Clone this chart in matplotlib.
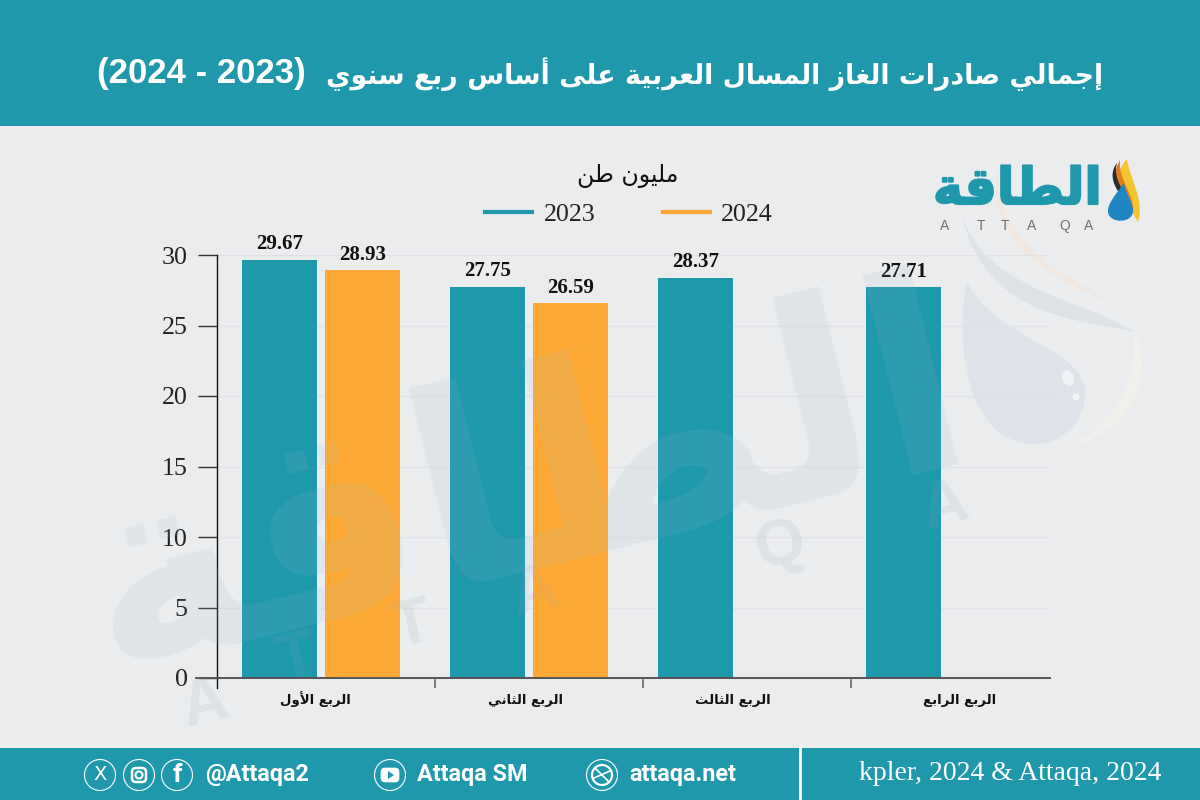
import numpy as np
import matplotlib
matplotlib.use("Agg")
import matplotlib.pyplot as plt
import matplotlib.patheffects as pe
from matplotlib.lines import Line2D
from matplotlib.patches import Circle, Rectangle, PathPatch, Ellipse, FancyBboxPatch, Polygon
from matplotlib.path import Path

# ---------- data ----------
categories = ["الربع الأول", "الربع الثاني", "الربع الثالث", "الربع الرابع"]
series_names = ["2023", "2024"]
values_2023 = [29.67, 27.75, 28.37, 27.71]
values_2024 = [28.93, 26.59, np.nan, np.nan]
y_ticks = [0, 5, 10, 15, 20, 25, 30]
title_ar = "إجمالي صادرات الغاز المسال العربية على أساس ربع سنوي"
title_years = "(2024 - 2023)"
unit = "مليون طن"
source = "kpler, 2024 & Attaqa, 2024"
brand = "الطاقة"

TEAL = "#1F98AC"
ORANGE = "#FDA834"
BG = "#EAECEE"

# ---------- Arabic shaping: matplotlib lays glyphs out left to right, one by one ----------
FORMS = {
    "ء": (0xFE80, None, None, None), "آ": (0xFE81, 0xFE82, None, None),
    "أ": (0xFE83, 0xFE84, None, None), "ؤ": (0xFE85, 0xFE86, None, None),
    "إ": (0xFE87, 0xFE88, None, None), "ا": (0xFE8D, 0xFE8E, None, None),
    "ة": (0xFE93, 0xFE94, None, None), "د": (0xFEA9, 0xFEAA, None, None),
    "ذ": (0xFEAB, 0xFEAC, None, None), "ر": (0xFEAD, 0xFEAE, None, None),
    "ز": (0xFEAF, 0xFEB0, None, None), "و": (0xFEED, 0xFEEE, None, None),
    "ى": (0xFEEF, 0xFEF0, None, None),
}
for ch, base in {"ب": 0xFE8F, "ت": 0xFE95, "ث": 0xFE99, "ج": 0xFE9D, "ح": 0xFEA1, "خ": 0xFEA5,
                 "س": 0xFEB1, "ش": 0xFEB5, "ص": 0xFEB9, "ض": 0xFEBD, "ط": 0xFEC1, "ظ": 0xFEC5,
                 "ع": 0xFEC9, "غ": 0xFECD, "ف": 0xFED1, "ق": 0xFED5, "ك": 0xFED9, "ل": 0xFEDD,
                 "م": 0xFEE1, "ن": 0xFEE5, "ه": 0xFEE9, "ي": 0xFEF1}.items():
    FORMS[ch] = (base, base + 1, base + 2, base + 3)
LAM_ALEF = {"ا": (0xFEFB, 0xFEFC), "أ": (0xFEF7, 0xFEF8), "إ": (0xFEF9, 0xFEFA), "آ": (0xFEF5, 0xFEF6)}


def shape(text):
    out = []
    i = 0
    n = len(text)
    prev_joins = False
    while i < n:
        c = text[i]
        if c not in FORMS:
            out.append(c)
            prev_joins = False
            i += 1
            continue
        if c == "ل" and i + 1 < n and text[i + 1] in LAM_ALEF:
            out.append(chr(LAM_ALEF[text[i + 1]][1 if prev_joins else 0]))
            prev_joins = False
            i += 2
            continue
        f = FORMS[c]
        next_ok = i + 1 < n and text[i + 1] in FORMS and f[2] is not None
        if prev_joins and next_ok:
            g = f[3]
        elif prev_joins:
            g = f[1]
        elif next_ok:
            g = f[2]
        else:
            g = f[0]
        out.append(chr(g))
        prev_joins = f[2] is not None
        i += 1
    return "".join(reversed(out))


SERIF = "Liberation Serif"
AR = "DejaVu Sans"

fig = plt.figure(figsize=(12, 8), dpi=100, facecolor=BG)

# ---------- background layer, in pixel coordinates ----------
bg = fig.add_axes([0, 0, 1, 1], zorder=0)
bg.set_xlim(0, 1200)
bg.set_ylim(800, 0)
bg.axis("off")
bg.add_patch(Rectangle((0, 0), 1200, 126, color=TEAL, lw=0))
bg.add_patch(Rectangle((0, 748), 1200, 52, color=TEAL, lw=0))
bg.plot([800, 800], [748, 800], color="white", lw=2)


def curve(ax, pts, **kw):
    codes = [Path.MOVETO] + [Path.CURVE4] * (len(pts) - 1)
    ax.add_patch(PathPatch(Path(pts, codes), lw=0, **kw))


# pale emblem behind the chart
curve(bg, [(1007, 153), (975, 210), (1040, 270), (1117, 303), (1050, 285), (965, 225), (1007, 153)], color="#EFE7E0")
curve(bg, [(962, 215), (985, 290), (1085, 300), (1135, 332), (1085, 320), (985, 320), (962, 215)], color="#DFE2E6")
curve(bg, [(1067, 447), (1150, 430), (1150, 350), (1133, 330), (1140, 380), (1115, 425), (1067, 447)], color="#EEF0EC")
curve(bg, [(967, 282), (955, 340), (965, 444), (1035, 444), (1075, 444), (1095, 400), (1080, 375),
           (1060, 345), (990, 330), (967, 282)], color="#E0E3EA")
bg.add_patch(Ellipse((1068, 378), 12, 16, angle=-25, color="#F1F2F5", lw=0))
bg.add_patch(Circle((1076, 397), 3.5, color="#F1F2F5", lw=0))

# header and footer text
bg.text(1103, 74, shape(title_ar), ha="right", va="center", color="white", family=AR,
        weight="bold", fontsize=19.3)
bg.text(97, 74, title_years, ha="left", va="center", color="white", family="Liberation Sans",
        weight="bold", fontsize=25)
bg.text(1161, 773, source, ha="right", va="center", color="white", family=SERIF, fontsize=20)
bg.text(628, 176, shape(unit), ha="center", va="center", color="#111111", family=AR, fontsize=17)

# footer handles and icons
for cx in (100, 139, 177, 390, 602):
    bg.add_patch(Circle((cx, 775), 15.5, fill=False, ec="white", lw=0.8))
bg.text(100, 775, "X", color="white", ha="center", va="center", family="DejaVu Sans", fontsize=14)
bg.add_patch(FancyBboxPatch((132, 768), 14, 14, boxstyle="round,pad=0,rounding_size=4", fill=False, ec="white", lw=1.8))
bg.add_patch(Circle((139, 775), 3.5, fill=False, ec="white", lw=1.5))
bg.text(177, 775, "f", color="white", ha="center", va="center", family="Roboto", weight="bold", fontsize=19)
bg.add_patch(FancyBboxPatch((381, 768), 18, 14, boxstyle="round,pad=0,rounding_size=4", fc="white", ec="white", lw=0.5))
bg.add_patch(Polygon([(388, 771), (388, 779), (394, 775)], color=TEAL, lw=0))
bg.add_patch(Circle((602, 775), 10, fill=False, ec="white", lw=1.6))
bg.plot([595, 609], [768, 782], color="white", lw=1.2)
bg.plot([594, 610], [778, 771], color="white", lw=1.2)
for x_px, s in ((205, "@Attaqa2"), (417, "Attaqa SM"), (629, "attaqa.net")):
    bg.text(x_px, 775, s, color="white", ha="left", va="center", family="Roboto", weight="bold", fontsize=16.8)

# logo
bg.text(1102, 190, shape(brand), ha="right", va="center", color=TEAL, family=AR, weight="bold", fontsize=36.5,
        path_effects=[pe.withStroke(linewidth=1.5, foreground=TEAL)])
for x_px, ch in zip((945, 981, 1005, 1032, 1065, 1089), "ATTAQA"):
    bg.text(x_px, 226, ch, ha="center", va="center", color="#6F6F6F", family="Liberation Sans", fontsize=10)
curve(bg, [(1127, 159), (1108, 180), (1125, 200), (1138, 222), (1145, 200), (1130, 180), (1127, 159)], color="#F2C531")
curve(bg, [(1120, 160), (1108, 180), (1122, 200), (1133, 212), (1135, 195), (1118, 180), (1120, 160)], color="#E57B21")
curve(bg, [(1117, 163), (1105, 178), (1120, 196), (1130, 205), (1126, 192), (1112, 180), (1117, 163)], color="#2B2B2B")
curve(bg, [(1124, 183), (1115, 195), (1107, 205), (1108, 212), (1109, 224), (1134, 224), (1133, 210),
           (1132, 200), (1126, 195), (1124, 183)], color="#1F86C4")

# ---------- chart ----------
x0_px, x1_px = 196, 1050
top_px, zero_px, bot_px = 255, 678, 688
group0_px, pitch_px = 321, 208
ax = fig.add_axes([x0_px / 1200, 1 - bot_px / 800, (x1_px - x0_px) / 1200, (bot_px - top_px) / 800], zorder=1)
ax.patch.set_alpha(0)
ax.set_xlim((x0_px - group0_px) / pitch_px, (x1_px - group0_px) / pitch_px)
y_per_px = 30 / (zero_px - top_px)
ax.set_ylim(-(bot_px - zero_px) * y_per_px, 30)

x = np.arange(len(categories))
bar_w = 75 / pitch_px
offset = 41.5 / pitch_px
b1 = ax.bar(x - offset, values_2023, bar_w, color=TEAL, lw=0)
b2 = ax.bar(x + offset, values_2024, bar_w, color=ORANGE, lw=0)
for b in (b1, b2):
    ax.bar_label(b, fmt="%.2f", padding=4, family=SERIF, weight="bold", fontsize=15, color="#111111")

ax.set_axisbelow(True)
ax.set_yticks(y_ticks)
ax.yaxis.grid(True, color="#E0E2E5", lw=1)
ax.tick_params(axis="y", length=13.7, width=1, color="#333333", pad=7.5, labelsize=18.7,
               labelcolor="#222222", labelfontfamily=SERIF)

ax.set_xticks(x[:-1] + 0.548)
ax.set_xticklabels([])
ax.tick_params(axis="x", which="major", length=7.5, width=1.2, color="#666666")
label_shift = [-0.029, -0.019, -0.019, 0.072]
label_y = -(704 - zero_px) * y_per_px
for xi, shift, cat in zip(x, label_shift, categories):
    ax.text(xi + shift, label_y, shape(cat), ha="center", va="baseline", family=AR, weight="bold",
            fontsize=9.5, color="#111111", clip_on=False)

for s in ("top", "right"):
    ax.spines[s].set_visible(False)
ax.spines["left"].set_position(("data", -0.5))
ax.spines["left"].set_color("#111111")
ax.spines["left"].set_linewidth(1)
ax.spines["bottom"].set_position(("data", 0))
ax.spines["bottom"].set_color("#555555")
ax.spines["bottom"].set_linewidth(1.4)

handles = [Line2D([], [], color=TEAL, lw=3), Line2D([], [], color=ORANGE, lw=3)]
fig.legend(handles, series_names, ncol=2, frameon=False, loc="center",
           bbox_to_anchor=(629 / 1200, 1 - 214 / 800), prop={"family": SERIF, "size": 18.7},
           handlelength=1.8, handletextpad=0.45, columnspacing=2.6, borderpad=0, labelcolor="#222222")

# ---------- translucent watermark on top of the bars ----------
wm = fig.add_axes([0, 0, 1, 1], zorder=2)
wm.set_xlim(0, 1200)
wm.set_ylim(800, 0)
wm.axis("off")
wm.patch.set_alpha(0)
wm.text(525, 490, shape(brand), ha="center", va="center", rotation=14, rotation_mode="anchor",
        color="#9DBBCB", alpha=0.13, family=AR, weight="bold", fontsize=195)
for px, py, ch in ((205, 705, "A"), (297, 660, "T"), (412, 627, "T"), (535, 593, "A"), (780, 547, "Q"), (945, 507, "A")):
    wm.text(px, py, ch, ha="center", va="center", rotation=14, color="#9AA5AE", alpha=0.12,
            family="Liberation Sans", weight="bold", fontsize=46)

fig.savefig("out.png", dpi=100, facecolor=BG)
